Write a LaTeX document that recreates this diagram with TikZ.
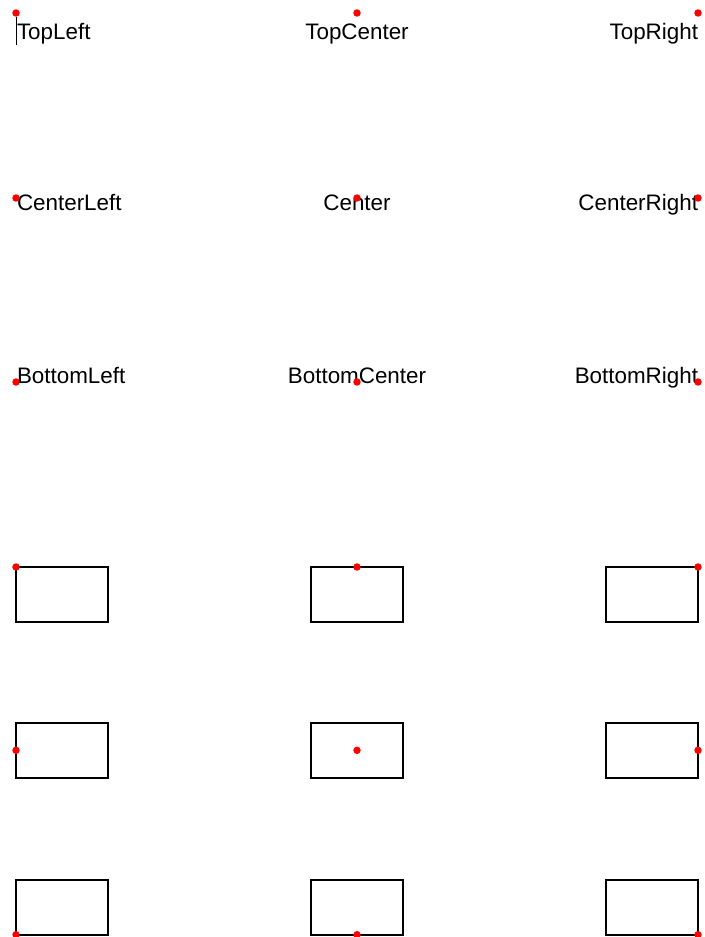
\documentclass[tikz,border=0pt]{standalone}
\usepackage{fontspec}
\setmainfont{Liberation Sans}
\begin{document}
\begin{tikzpicture}[x=0.75pt,y=-0.75pt,
  lbl/.style={inner sep=0pt,outer sep=0pt,font=\fontsize{16.8pt}{19pt}\selectfont},
  box/.style={draw=black,line width=1.7pt,minimum width=69pt,minimum height=41pt,inner sep=0pt,outer sep=0pt,anchor=north west},
  dot/.style={fill=red,draw=none}]
\useasboundingbox (0,0) rectangle (705,937);
% text labels
\node[lbl,anchor=base west] (tl) at (17,40) {TopLeft};
\node[lbl,anchor=base] (tc) at (357,40) {TopCenter};
\node[lbl,anchor=base east] (tr) at (698,40) {TopRight};
\node[lbl,anchor=base west] (cl) at (17,211) {CenterLeft};
\node[lbl,anchor=base] (cc) at (357,211) {Center};
\node[lbl,anchor=base east] (cr) at (698,211) {CenterRight};
\node[lbl,anchor=base west] (bl) at (17,383) {BottomLeft};
\node[lbl,anchor=base] (bc) at (357,383) {BottomCenter};
\node[lbl,anchor=base east] (br) at (698,383) {BottomRight};
% cursor line
\coordinate (c1) at (16,17);
\coordinate (c2) at (16,45);
\draw[line width=0.75pt] (c1) -- (c2);
% text anchor dots
\coordinate (atl) at (16,13);
\coordinate (atc) at (357,13);
\coordinate (atr) at (698,13);
\coordinate (acl) at (16,198);
\coordinate (acc) at (357,198);
\coordinate (acr) at (698,198);
\coordinate (abl) at (16,382);
\coordinate (abc) at (357,382);
\coordinate (abr) at (698,382);
\foreach \p in {atl,atc,atr,acl,acc,acr,abl,abc,abr}
  \fill[dot] (\p) circle (2.8pt);
% rectangles
\node[box] (r1a) at (16,567) {};
\node[box] (r1b) at (311,567) {};
\node[box] (r1c) at (606,567) {};
\node[box] (r2a) at (16,723) {};
\node[box] (r2b) at (311,723) {};
\node[box] (r2c) at (606,723) {};
\node[box] (r3a) at (16,880) {};
\node[box] (r3b) at (311,880) {};
\node[box] (r3c) at (606,880) {};
\fill[dot] (r1a.north west) circle (2.8pt);
\fill[dot] (r1b.north) circle (2.8pt);
\fill[dot] (r1c.north east) circle (2.8pt);
\fill[dot] (r2a.west) circle (2.8pt);
\fill[dot] (r2b.center) circle (2.8pt);
\fill[dot] (r2c.east) circle (2.8pt);
\fill[dot] (r3a.south west) circle (2.8pt);
\fill[dot] (r3b.south) circle (2.8pt);
\fill[dot] (r3c.south east) circle (2.8pt);
\end{tikzpicture}
\end{document}
